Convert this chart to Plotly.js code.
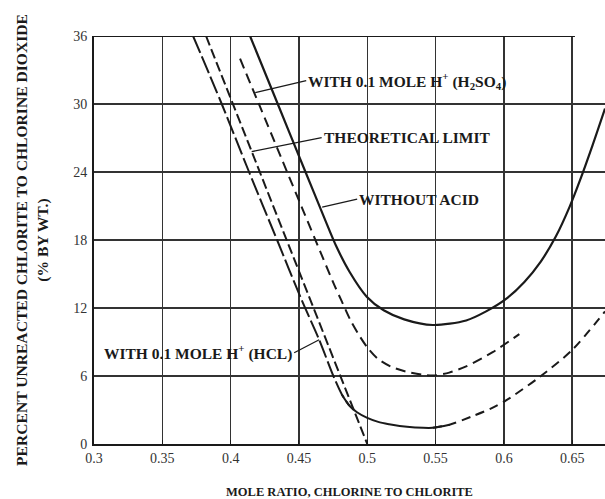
<!DOCTYPE html>
<html>
<head>
<meta charset="utf-8">
<script src="https://cdn.plot.ly/plotly-3.0.1.min.js"></script>
<style>html,body{margin:0;padding:0;background:#fff;}#chart{width:605px;height:499px;}</style>
</head>
<body>
<div id="chart"></div>
<script>
// ---- data ----
const xTickVals = [0.3, 0.35, 0.4, 0.45, 0.5, 0.55, 0.6, 0.65];
const xTickText = ["0.3", "0.35", "0.4", "0.45", "0.5", "0.55", "0.6", "0.65"];
const yTickVals = [0, 6, 12, 18, 24, 30, 36];

// Without acid (solid)
const noAcidX = [0.4142, 0.4345, 0.4548, 0.4684, 0.4775, 0.487, 0.4996, 0.512, 0.527, 0.548, 0.5724, 0.587, 0.6016, 0.615, 0.627, 0.638, 0.648, 0.6558, 0.665, 0.674];
const noAcidY = [36, 30, 24, 20, 17.4, 15.2, 13.0, 11.8, 11.0, 10.5, 10.9, 11.7, 12.8, 14.3, 16.1, 18.3, 20.9, 23.3, 26.4, 29.6];

// With 0.1 mole H+ (H2SO4) (dashed)
const h2so4X = [0.4069, 0.4224, 0.4379, 0.4524, 0.4676, 0.476, 0.4813, 0.4878, 0.494, 0.5002, 0.5075, 0.517, 0.528, 0.540, 0.549, 0.560, 0.5724, 0.5918, 0.6113];
const h2so4Y = [34.0, 29.5, 25.0, 20.8, 16.4, 14.0, 12.6, 10.9, 9.6, 8.5, 7.55, 6.85, 6.4, 6.12, 6.05, 6.3, 6.85, 8.1, 9.7];

// Theoretical limit (straight line)
const theoryX = [0.382, 0.5];
const theoryY = [36, 0];

// With 0.1 mole H+ (HCl): upper long-dashed part, solid bottom, dashed right part
const hclUpperX = [0.3725, 0.3935, 0.4135, 0.434, 0.452, 0.4648, 0.4752, 0.4815, 0.4868];
const hclUpperY = [36, 30, 24, 18, 12.7, 9.2, 6.0, 4.35, 3.4];
const hclBottomX = [0.4815, 0.4868, 0.4925, 0.500, 0.508, 0.516, 0.5237, 0.535, 0.548, 0.5602];
const hclBottomY = [4.35, 3.4, 2.8, 2.3, 1.95, 1.74, 1.58, 1.46, 1.43, 1.7];
const hclRightX = [0.548, 0.5602, 0.577, 0.59, 0.6016, 0.626, 0.65, 0.674];
const hclRightY = [1.43, 1.7, 2.45, 3.1, 3.85, 5.9, 8.3, 11.7];

const labels = {
  h2so4: "WITH 0.1 MOLE H<sup>+</sup> (H<sub>2</sub>SO<sub>4</sub>)",
  theory: "THEORETICAL LIMIT",
  noAcid: "WITHOUT ACID",
  hcl: "WITH 0.1 MOLE H<sup>+</sup> (HCL)"
};

const ink = "#1a1a1a";
const serif = "Liberation Serif, Times New Roman, serif";

function tr(x, y, dash, w) {
  return {x: x, y: y, type: "scatter", mode: "lines", hoverinfo: "skip", showlegend: false,
    line: {color: ink, width: w || 2, dash: dash, shape: "spline", smoothing: 0.8}};
}

const data = [
  tr(noAcidX, noAcidY, "solid", 2.2),
  tr(h2so4X, h2so4Y, "10px,6px", 2),
  tr(theoryX, theoryY, "10px,4px", 2),
  tr(hclUpperX, hclUpperY, "18px,4px", 2),
  tr(hclBottomX, hclBottomY, "solid", 2),
  tr(hclRightX, hclRightY, "9px,6px", 2)
];

function ann(xv, yv, text, ax, ay, xanchor) {
  return {x: xv, y: yv, xref: "x", yref: "y", text: text, showarrow: true, arrowhead: 0,
    arrowwidth: 1.3, arrowcolor: ink, ax: ax, ay: ay, xanchor: xanchor, yanchor: "middle",
    font: {family: serif, size: 15.5, color: ink}};
}

const layout = {
  width: 605, height: 499,
  margin: {l: 94, r: 0, t: 36, b: 55},
  paper_bgcolor: "#fff", plot_bgcolor: "#fff",
  font: {family: serif, color: ink},
  xaxis: {
    range: [0.3, 0.674], tickvals: xTickVals, ticktext: xTickText,
    showgrid: true, gridcolor: "#333", gridwidth: 1.5, zeroline: false,
    showline: true, linecolor: ink, linewidth: 2,
    ticks: "inside", ticklen: 4, tickcolor: ink,
    tickfont: {family: serif, size: 14, color: "#333"},
    title: {text: "<b>MOLE RATIO, CHLORINE TO CHLORITE</b>", font: {family: serif, size: 12.5, color: ink}, standoff: 22}
  },
  yaxis: {
    range: [0, 36], tickvals: yTickVals,
    showgrid: true, gridcolor: "#333", gridwidth: 1.5, zeroline: false,
    showline: true, linecolor: ink, linewidth: 2,
    ticks: "", ticklabelstandoff: 2,
    tickfont: {family: serif, size: 14, color: "#333"},
    title: {text: "<b>PERCENT UNREACTED CHLORITE TO CHLORINE DIOXIDE<br>(% BY WT.)</b>", font: {family: serif, size: 15.6, color: ink}, standoff: 21}
  },
  shapes: [
    {type: "line", xref: "x", yref: "y", x0: 0.3, x1: 0.652, y0: 36, y1: 36, line: {color: ink, width: 2}}
  ],
  annotations: [
    ann(0.418, 31.0, "<b>" + labels.h2so4 + "</b>", 51, -12, "left"),
    ann(0.4154, 25.8, "<b>" + labels.theory + "</b>", 70, -14, "left"),
    ann(0.467, 20.9, "<b>" + labels.noAcid + "</b>", 35, -8, "left"),
    ann(0.4648, 9.2, "<b>" + labels.hcl + "</b>", -25, 13, "right")
  ]
};

Plotly.newPlot("chart", data, layout, {displayModeBar: false, staticPlot: true});
</script>
</body>
</html>
